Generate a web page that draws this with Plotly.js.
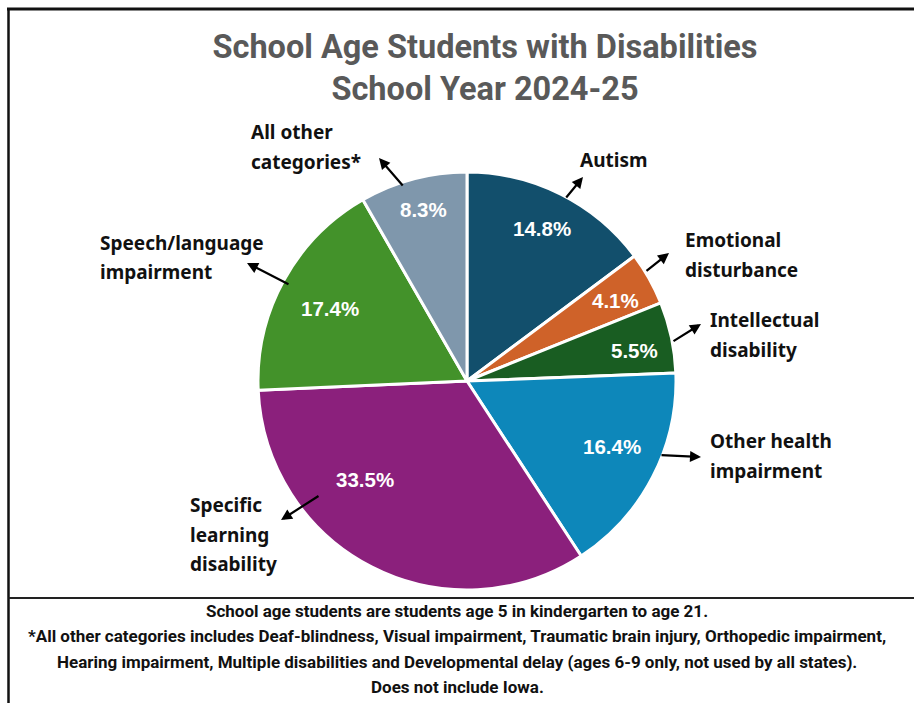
<!DOCTYPE html>
<html>
<head>
<meta charset="utf-8">
<script src="https://cdn.plot.ly/plotly-3.0.1.min.js"></script>
<style>html,body{margin:0;padding:0;background:#fff;}#chart{width:914px;height:703px;}</style>
</head>
<body>
<div id="chart"></div>
<script>
const categories = ["Autism", "Emotional disturbance", "Intellectual disability", "Other health impairment", "Specific learning disability", "Speech/language impairment", "All other categories*"];
const percentValues = [14.8, 4.1, 5.5, 16.4, 33.5, 17.4, 8.3];
const sliceColors = ["#124f6c", "#cf6229", "#195d22", "#0d87ba", "#8b207c", "#43922a", "#7f97ac"];
const labelLines = [["Autism"], ["Emotional", "disturbance"], ["Intellectual", "disability"], ["Other health", "impairment"], ["Specific", "learning", "disability"], ["Speech/language", "impairment"], ["All other", "categories*"]];
const titleText = "School Age Students with Disabilities<br>School Year 2024-25";
const footnoteLines = [
  "School age students are students age 5 in kindergarten to age 21.",
  "*All other categories includes Deaf-blindness, Visual impairment, Traumatic brain injury, Orthopedic impairment,",
  "Hearing impairment, Multiple disabilities and Developmental delay (ages 6-9 only, not used by all states).",
  "Does not include Iowa."
];

const W = 914, H = 703;
const px = x => x / W;
const py = y => 1 - y / H;

// outside label placement (pixels): [x, first line y, anchor]
const labelPos = [
  [614, 160, "center"],
  [683, 240, "left"],
  [708, 320, "left"],
  [708, 441, "left"],
  [188, 505, "left"],
  [98, 243, "left"],
  [249, 132, "left"]
];
// percent label centres (pixels)
const pctPos = [[542, 228], [615, 300], [634, 350], [612, 446], [365, 480], [330, 308], [423, 209]];
// arrows: [tailX, tailY, headX, headY]
const arrows = [
  [565, 199, 583, 177],
  [645, 272, 669, 253],
  [672, 342, 701, 324],
  [660, 455, 701, 457],
  [320, 495, 281, 520],
  [290, 285, 247, 263],
  [404, 187, 379, 158]
];

const annotations = [];
labelLines.forEach((lines, i) => {
  const [lx, ly, anchor] = labelPos[i];
  lines.forEach((t, j) => {
    annotations.push({
      xref: "paper", yref: "paper", x: px(lx), y: py(ly + j * 29.5),
      xanchor: anchor, yanchor: "middle", showarrow: false, text: t,
      font: {family: "Noto Sans", size: 19, color: "#111", weight: "bold"}
    });
  });
});
percentValues.forEach((v, i) => {
  annotations.push({
    xref: "paper", yref: "paper", x: px(pctPos[i][0]), y: py(pctPos[i][1]),
    xanchor: "center", yanchor: "middle", showarrow: false, text: v.toFixed(1) + "%",
    font: {family: "Liberation Sans", size: 20.5, color: "#fff", weight: "bold"}
  });
});
arrows.forEach(a => {
  annotations.push({
    xref: "paper", yref: "paper", x: px(a[2]), y: py(a[3]),
    ax: a[0] - a[2], ay: a[1] - a[3], axref: "pixel", ayref: "pixel",
    text: "", showarrow: true, arrowhead: 2, arrowsize: 1, arrowwidth: 2.2, arrowcolor: "#000"
  });
});
footnoteLines.forEach((t, j) => {
  annotations.push({
    xref: "paper", yref: "paper", x: px(457), y: py(611 + j * 25.3),
    xanchor: "center", yanchor: "middle", showarrow: false, text: t,
    font: {family: "Roboto", size: 17, color: "#111", weight: "bold"}
  });
});

const cx = 467, cy = 381, r = 209;
const data = [{
  type: "pie",
  labels: categories,
  values: percentValues,
  sort: false,
  direction: "clockwise",
  rotation: 0,
  marker: {colors: sliceColors, line: {color: "#fff", width: 3}},
  textinfo: "none",
  hoverinfo: "label+value",
  domain: {x: [px(cx - r), px(cx + r)], y: [py(cy + r), py(cy - r)]},
  showlegend: false
}];

const layout = {
  width: W, height: H,
  margin: {l: 0, r: 0, t: 0, b: 0},
  paper_bgcolor: "#fff",
  title: {
    text: titleText, x: px(485), xanchor: "center", y: py(58), yanchor: "middle",
    font: {family: "Roboto", size: 32.5, color: "#595959", weight: "bold"}
  },
  showlegend: false,
  annotations: annotations,
  shapes: [
    {type: "line", xref: "paper", yref: "paper", x0: px(7), x1: 1, y0: py(9), y1: py(9), line: {color: "#111", width: 3}},
    {type: "line", xref: "paper", yref: "paper", x0: px(8.5), x1: px(8.5), y0: py(9), y1: 0, line: {color: "#111", width: 2.5}},
    {type: "line", xref: "paper", yref: "paper", x0: px(8.5), x1: 1, y0: py(598), y1: py(598), line: {color: "#222", width: 2}}
  ]
};

Plotly.newPlot("chart", data, layout, {displayModeBar: false, staticPlot: true});
</script>
</body>
</html>
